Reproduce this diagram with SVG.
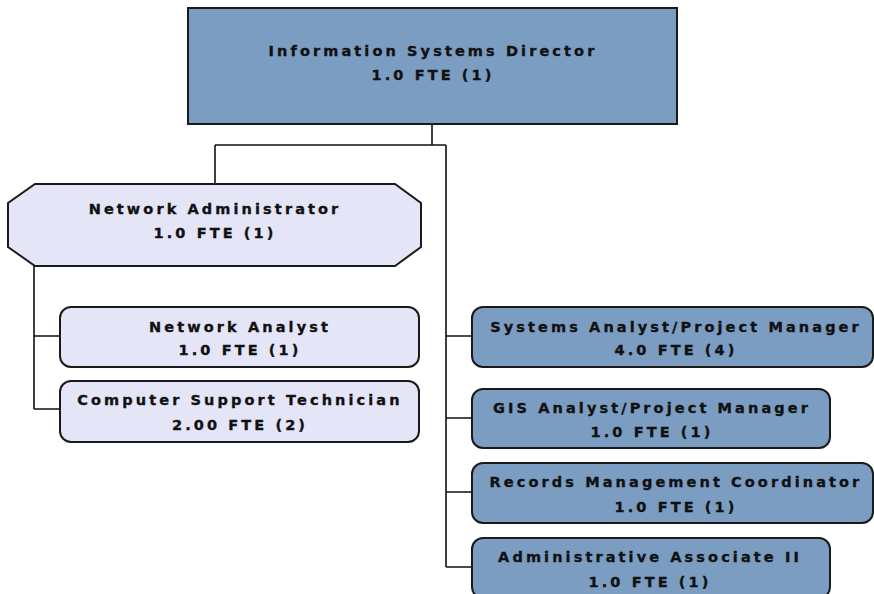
<svg xmlns="http://www.w3.org/2000/svg" width="874" height="594" viewBox="0 0 874 594">
  <style>
    .blue { fill: #7b9dc2; stroke: #1a1a1a; stroke-width: 2; }
    .lav { fill: #e5e5f8; stroke: #1a1a1a; stroke-width: 2; }
    .lbl { font-family: "DejaVu Sans", Verdana, sans-serif; font-weight: bold; font-size: 14.5px; letter-spacing: 3.1px; fill: #111; stroke: #111; stroke-width: 0.35; text-anchor: middle; }
    .wire { fill: none; stroke: #111; stroke-width: 1.6; }
  </style>
  <rect width="874" height="594" fill="#ffffff"/>

  <!-- connectors -->
  <g id="connectors" class="wire">
    <path d="M432 124 V145 M215 145 H446 M215 145 V184 M446 145 V567"/>
    <path d="M34 266 V409 M34 336 H60 M34 409 H60"/>
    <path d="M446 336 H472 M446 418 H472 M446 492 H472 M446 567 H472"/>
  </g>

  <g id="director">
    <rect class="blue" x="188" y="8" width="489" height="116"/>
    <text class="lbl" x="433" y="56">Information Systems Director</text>
    <text class="lbl" x="433" y="80">1.0 FTE (1)</text>
  </g>

  <g id="network-admin">
    <polygon class="lav" points="35,184 395,184 421,203 421,247 395,266 35,266 8,247 8,203"/>
    <text class="lbl" x="215" y="214">Network Administrator</text>
    <text class="lbl" x="215" y="238">1.0 FTE (1)</text>
  </g>

  <g id="network-analyst">
    <rect class="lav" x="60" y="307" width="359" height="60" rx="11"/>
    <text class="lbl" x="240" y="332">Network Analyst</text>
    <text class="lbl" x="240" y="355">1.0 FTE (1)</text>
  </g>

  <g id="computer-support">
    <rect class="lav" x="60" y="381" width="359" height="61" rx="11"/>
    <text class="lbl" x="240" y="405">Computer Support Technician</text>
    <text class="lbl" x="240" y="430">2.00 FTE (2)</text>
  </g>

  <g id="systems-analyst">
    <rect class="blue" x="472" y="307" width="401" height="60" rx="11"/>
    <text class="lbl" x="676" y="332">Systems Analyst/Project Manager</text>
    <text class="lbl" x="676" y="355">4.0 FTE (4)</text>
  </g>

  <g id="gis-analyst">
    <rect class="blue" x="472" y="389" width="358" height="59" rx="11"/>
    <text class="lbl" x="652" y="413">GIS Analyst/Project Manager</text>
    <text class="lbl" x="652" y="437">1.0 FTE (1)</text>
  </g>

  <g id="records-coordinator">
    <rect class="blue" x="472" y="463" width="401" height="60" rx="11"/>
    <text class="lbl" x="676" y="487">Records Management Coordinator</text>
    <text class="lbl" x="676" y="512">1.0 FTE (1)</text>
  </g>

  <g id="admin-associate">
    <rect class="blue" x="472" y="538" width="358" height="60" rx="11"/>
    <text class="lbl" x="650" y="562">Administrative Associate II</text>
    <text class="lbl" x="650" y="587">1.0 FTE (1)</text>
  </g>
</svg>
